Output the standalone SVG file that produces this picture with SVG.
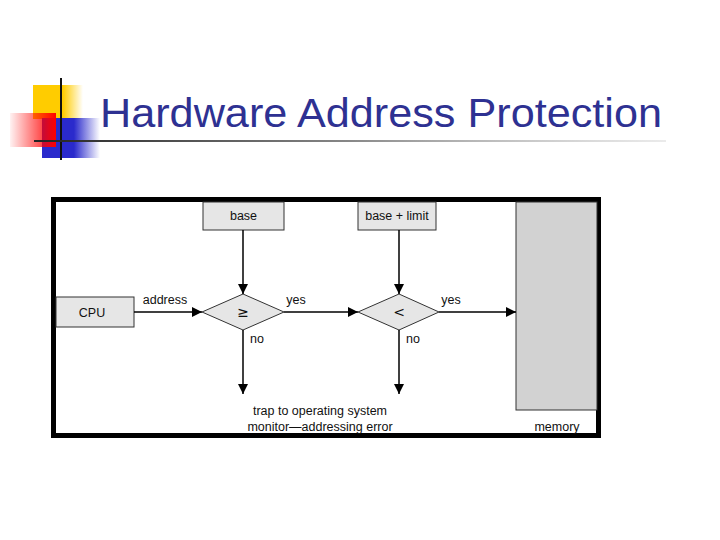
<svg xmlns="http://www.w3.org/2000/svg" width="720" height="540" viewBox="0 0 720 540">
<defs>
<linearGradient id="gy" x1="0" y1="0" x2="1" y2="0"><stop offset="0" stop-color="#ffcc00"/><stop offset="0.6" stop-color="#ffcc00"/><stop offset="1" stop-color="#ffcc00" stop-opacity="0"/></linearGradient>
<linearGradient id="gb" x1="0" y1="0" x2="1" y2="0"><stop offset="0" stop-color="#2a2acc"/><stop offset="0.55" stop-color="#2a2acc"/><stop offset="1" stop-color="#2a2acc" stop-opacity="0"/></linearGradient>
<linearGradient id="gr" x1="1" y1="0" x2="0" y2="0"><stop offset="0" stop-color="#ff0000"/><stop offset="1" stop-color="#ff0000" stop-opacity="0.05"/></linearGradient>
<linearGradient id="gl" x1="0" y1="0" x2="1" y2="0"><stop offset="0" stop-color="#222"/><stop offset="0.5" stop-color="#888"/><stop offset="1" stop-color="#bbb" stop-opacity="0.3"/></linearGradient>
<marker id="ah" viewBox="0 0 10 10" refX="10" refY="5" markerWidth="10" markerHeight="10" markerUnits="userSpaceOnUse" orient="auto"><path d="M0,0 L10,5 L0,10 z" fill="#000"/></marker>
<style>
.box{fill:#e6e6e6;stroke:#333;stroke-width:1}
.lbl{font-family:"Liberation Sans",Arial,sans-serif;font-size:12.5px;fill:#111}
.sym{font-family:"DejaVu Sans",sans-serif;font-size:14px;fill:#111}
.c{stroke:#000;stroke-width:1.5;fill:none;marker-end:url(#ah)}
</style>
</defs>
<rect width="720" height="540" fill="#fff"/>
<g id="logo">
<rect x="33" y="85" width="50" height="34" fill="url(#gy)"/>
<rect x="42" y="118" width="58" height="40" fill="url(#gb)"/>
<rect x="10" y="113" width="46" height="34" fill="url(#gr)"/>
<line x1="61" y1="78" x2="61" y2="160" stroke="#111" stroke-width="2"/>
<rect x="34" y="140" width="632" height="2" fill="url(#gl)"/>
</g>
<text id="title" x="100" y="127" font-family="'Liberation Sans',Arial,sans-serif" font-size="40" fill="#2e3192" textLength="562" lengthAdjust="spacingAndGlyphs">Hardware Address Protection</text>
<g id="frame">
<rect x="53.5" y="199.5" width="545" height="236" fill="#fff" stroke="#000" stroke-width="5"/>
</g>
<g id="memory">
<rect x="516" y="202" width="81" height="208" fill="#d2d2d2" stroke="#333" stroke-width="1"/>
<text class="lbl" x="557" y="431" text-anchor="middle">memory</text>
</g>
<g id="base">
<rect class="box" x="203" y="202" width="81" height="28"/>
<text class="lbl" x="243.5" y="220" text-anchor="middle">base</text>
</g>
<g id="baselimit">
<rect class="box" x="358" y="202" width="78" height="28"/>
<text class="lbl" x="397" y="220" text-anchor="middle">base + limit</text>
</g>
<g id="cpu">
<rect class="box" x="56" y="297" width="78" height="30"/>
<text class="lbl" x="92" y="317" text-anchor="middle">CPU</text>
</g>
<g id="cmp1">
<polygon class="box" points="243,294 284,312 243,330 202,312"/>
<text class="sym" x="243" y="317" text-anchor="middle">≥</text>
</g>
<g id="cmp2">
<polygon class="box" points="399,294 439,312 399,330 358,312"/>
<text class="sym" x="399" y="317" text-anchor="middle">&lt;</text>
</g>
<g id="connectors">
<line class="c" x1="134" y1="312" x2="202" y2="312"/>
<line class="c" x1="284" y1="312" x2="358" y2="312"/>
<line class="c" x1="439" y1="312" x2="516" y2="312"/>
<line class="c" x1="243" y1="230" x2="243" y2="294"/>
<line class="c" x1="399" y1="230" x2="399" y2="294"/>
<line class="c" x1="243" y1="330" x2="243" y2="394"/>
<line class="c" x1="399" y1="330" x2="399" y2="394"/>
</g>
<g id="labels">
<text class="lbl" x="165" y="304" text-anchor="middle">address</text>
<text class="lbl" x="296" y="304" text-anchor="middle">yes</text>
<text class="lbl" x="451" y="304" text-anchor="middle">yes</text>
<text class="lbl" x="257" y="343" text-anchor="middle">no</text>
<text class="lbl" x="413" y="343" text-anchor="middle">no</text>
<text class="lbl" x="320" y="415" text-anchor="middle">trap to operating system</text>
<text class="lbl" x="320" y="431" text-anchor="middle">monitor—addressing error</text>
</g>
</svg>
